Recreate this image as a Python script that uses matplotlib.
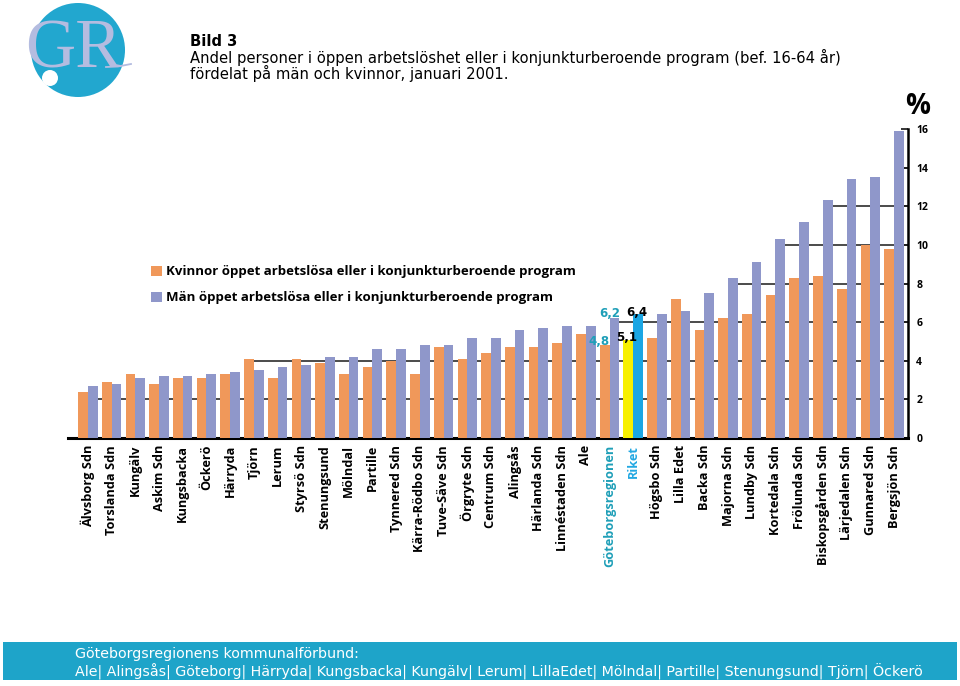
import matplotlib
matplotlib.use("Agg")
import matplotlib.pyplot as plt
from matplotlib.patches import Rectangle, Circle, Patch
from matplotlib.lines import Line2D
import numpy as np

# ---------------- data ----------------
categories = ["Älvsborg Sdn", "Torslanda Sdn", "Kungälv", "Askim Sdn", "Kungsbacka",
              "Öckerö", "Härryda", "Tjörn", "Lerum", "Styrsö Sdn", "Stenungsund",
              "Mölndal", "Partille", "Tynnered Sdn", "Kärra-Rödbo Sdn", "Tuve-Säve Sdn",
              "Örgryte Sdn", "Centrum Sdn", "Alingsås", "Härlanda Sdn", "Linnéstaden Sdn",
              "Ale", "Göteborgsregionen", "Riket", "Högsbo Sdn", "Lilla Edet", "Backa Sdn",
              "Majorna Sdn", "Lundby Sdn", "Kortedala Sdn", "Frölunda Sdn",
              "Biskopsgården Sdn", "Lärjedalen Sdn", "Gunnared Sdn", "Bergsjön Sdn"]
women = [2.4, 2.9, 3.3, 2.8, 3.1, 3.1, 3.3, 4.1, 3.1, 4.1, 3.9,
         3.3, 3.7, 4.0, 3.3, 4.7, 4.1, 4.4, 4.7, 4.7, 4.9,
         5.4, 4.8, 5.1, 5.2, 7.2, 5.6, 6.2, 6.4, 7.4, 8.3,
         8.4, 7.7, 10.0, 9.8]
men = [2.7, 2.8, 3.1, 3.2, 3.2, 3.3, 3.4, 3.5, 3.7, 3.8, 4.2,
       4.2, 4.6, 4.6, 4.8, 4.8, 5.2, 5.2, 5.6, 5.7, 5.8,
       5.8, 6.2, 6.4, 6.4, 6.6, 7.5, 8.3, 9.1, 10.3, 11.2,
       12.3, 13.4, 13.5, 15.9]
yticks = [0, 2, 4, 6, 8, 10, 12, 14, 16]
region_name = "Göteborgsregionen"
nation_name = "Riket"
legend_labels = ["Kvinnor öppet arbetslösa eller i konjunkturberoende program",
                 "Män öppet arbetslösa eller i konjunkturberoende program"]

# ---------------- style ----------------
C_W = "#f0985a"
C_M = "#8f97ca"
C_NAT_W = "#f7f000"
C_NAT_M = "#1ba6e4"
C_REG_TXT = "#1f9fb8"
C_NAT_TXT = "#22a8e2"
C_BAND = "#1ea4c9"
C_LOGO = "#22a7cf"
C_LOGO_TXT = "#b4bce0"

LBL_FONT = "Open Sans"

fig = plt.figure(figsize=(9.6, 6.86), dpi=100)
ax = fig.add_axes([68/960, 1-438/686, (908-68)/960, (438-129)/686])

x = np.arange(len(categories))
w = 0.41
wcol = [C_NAT_W if c == nation_name else C_W for c in categories]
mcol = [C_NAT_M if c == nation_name else C_M for c in categories]
ax.bar(x - w/2, women, w, color=wcol, linewidth=0, zorder=3)
ax.bar(x + w/2, men, w, color=mcol, linewidth=0, zorder=3)

xl = (-0.84, len(categories) - 1 + 0.59)
ax.set_xlim(*xl)
ax.set_ylim(0, 16)

# gridlines start at the first bar that rises above the level
for lev in yticks[1:]:
    start = None
    for i in range(len(categories)):
        if women[i] > lev:
            start = i - w
            break
        if men[i] > lev:
            start = i
            break
    if start is not None:
        ax.hlines(lev, start, xl[1], color="#1a1a1a", lw=1.1, zorder=2)

for s in ["top", "left"]:
    ax.spines[s].set_visible(False)
ax.spines["right"].set_linewidth(1.8)
ax.spines["bottom"].set_linewidth(2.2)
ax.yaxis.tick_right()
ax.set_yticks(yticks)
ax.set_yticklabels([str(t) for t in yticks], fontfamily=LBL_FONT, fontweight="bold", fontsize=7.5)
ax.tick_params(axis="y", direction="in", length=5, width=1.1, pad=6)
ax.set_xticks(x)
ax.set_xticklabels(categories, rotation=90, fontfamily=LBL_FONT, fontweight="bold", fontsize=9.2)
ax.tick_params(axis="x", length=0, pad=5)
for lbl in ax.get_xticklabels():
    if lbl.get_text() == region_name:
        lbl.set_color(C_REG_TXT)
    elif lbl.get_text() == nation_name:
        lbl.set_color(C_NAT_TXT)

ax.text(0.997, 1.025, "%", transform=ax.transAxes, ha="left", va="bottom",
        fontfamily=LBL_FONT, fontweight="bold", fontsize=20)

# value labels
ri = categories.index(region_name)
ni = categories.index(nation_name)
vfont = dict(fontfamily="DejaVu Sans", fontweight="bold", fontsize=8.5)
ax.annotate(f"{women[ri]:.1f}".replace(".", ","), (ri - w/2, women[ri]), xytext=(-4, -2),
            textcoords="offset points", ha="center", va="bottom", color=C_REG_TXT, zorder=5, **vfont)
ax.annotate(f"{men[ri]:.1f}".replace(".", ","), (ri + w/2, men[ri]), xytext=(-3, -1),
            textcoords="offset points", ha="center", va="bottom", color=C_REG_TXT, zorder=5, **vfont)
ax.annotate(f"{women[ni]:.1f}".replace(".", ","), (ni - w/2, women[ni]), xytext=(-1, -3),
            textcoords="offset points", ha="center", va="bottom", color="black", zorder=5, **vfont)
ax.annotate(f"{men[ni]:.1f}".replace(".", ","), (ni + w/2, men[ni]), xytext=(-1, -3),
            textcoords="offset points", ha="center", va="bottom", color="black", zorder=5, **vfont)

# legend
handles = [Patch(facecolor=C_W, edgecolor="none"), Patch(facecolor=C_M, edgecolor="none")]
fig.legend(handles, legend_labels, loc="upper left", bbox_to_anchor=(146/960, 1-260/686),
           frameon=False, handlelength=0.8, handleheight=0.8, handletextpad=0.3,
           labelspacing=1.0, borderaxespad=0,
           prop=dict(family=LBL_FONT, weight="bold", size=9.5))

# title
tfont = dict(fontsize=10.6, fontfamily="DejaVu Sans")
fig.text(190/960, 1-41/686, "Bild 3", ha="left", va="center", fontweight="bold", **tfont)
fig.text(190/960, 1-57/686,
         "Andel personer i öppen arbetslöshet eller i konjunkturberoende program (bef. 16-64 år)",
         ha="left", va="center", **tfont)
fig.text(190/960, 1-73/686, "fördelat på män och kvinnor, januari 2001.",
         ha="left", va="center", **tfont)

# logo
lax = fig.add_axes([28/960, 1-98/686, 100/960, 96/686])
lax.set_xlim(28, 128)
lax.set_ylim(98, 2)
lax.axis("off")
lax.add_patch(Circle((78, 50), 47, color=C_LOGO, lw=0))
lax.add_patch(Circle((50, 78), 8, color="white", lw=0))
lax.text(73, 68, "GR", ha="center", va="baseline", fontsize=50, color=C_LOGO_TXT,
         fontfamily="Liberation Serif")
lax.add_line(Line2D([106, 118, 131], [67, 66.5, 64], color=C_LOGO_TXT, lw=1.3, clip_on=False))

# footer band
fig.patches.append(Rectangle((3/960, 1-680/686), 954/960, 38/686, transform=fig.transFigure,
                             facecolor=C_BAND, edgecolor="none", zorder=0))
ffont = dict(color="white", fontsize=10.3, fontfamily="DejaVu Sans")
fig.text(75/960, 1-654/686, "Göteborgsregionens kommunalförbund:", ha="left", va="center", **ffont)
fig.text(75/960, 1-672/686,
         "Ale| Alingsås| Göteborg| Härryda| Kungsbacka| Kungälv| Lerum| LillaEdet| Mölndal| Partille| Stenungsund| Tjörn| Öckerö",
         ha="left", va="center", **ffont)

fig.savefig("out.png", dpi=100)
